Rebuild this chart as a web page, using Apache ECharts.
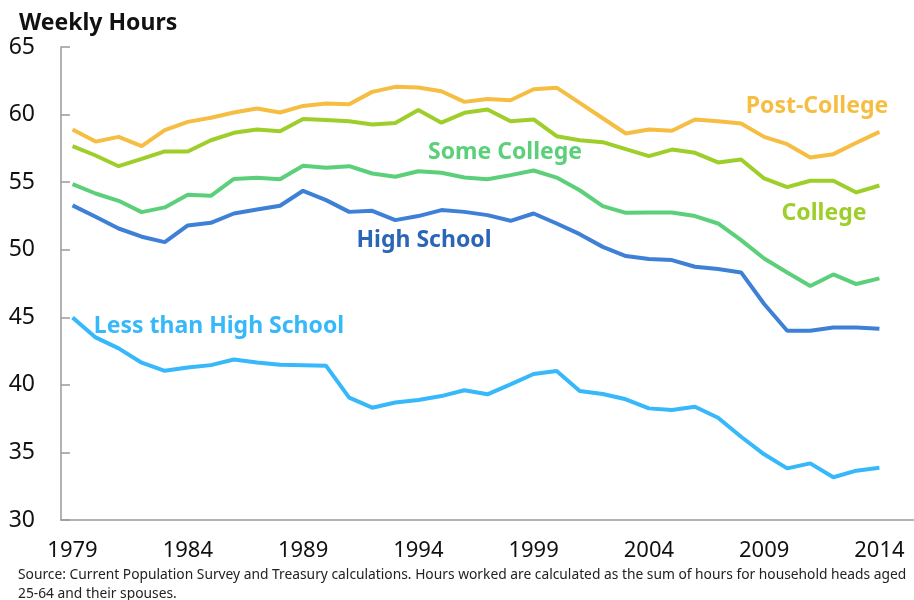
<!DOCTYPE html>
<html lang="en">
<head>
    <meta charset="UTF-8">
    <title>Weekly Hours by Education</title>
</head>
<body style="margin:0;">
<div style="width: 914px;height: 600px;" id="hoursChart"></div>
</body>
<script src="https://cdn.jsdelivr.net/npm/echarts@6/dist/echarts.min.js"></script>
<script type="text/javascript">
  // years on the axis; 2015 is an empty slot so the axis runs to the edge
  let years = [
    '1979', '1980', '1981', '1982', '1983', '1984', '1985', '1986', '1987',
    '1988', '1989', '1990', '1991', '1992', '1993', '1994', '1995', '1996',
    '1997', '1998', '1999', '2000', '2001', '2002', '2003', '2004', '2005',
    '2006', '2007', '2008', '2009', '2010', '2011', '2012', '2013', '2014',
    '2015'];

  let postCollege = [
    58.9, 58.0, 58.35, 57.66, 58.85, 59.46, 59.76, 60.15, 60.45, 60.15,
    60.64, 60.82, 60.77, 61.68, 62.05, 62.0, 61.73, 60.94, 61.15, 61.06,
    61.87, 61.99, 60.87, 59.73, 58.6, 58.9, 58.8, 59.63, 59.51, 59.34,
    58.35, 57.81, 56.83, 57.07, 57.91, 58.72];

  let college = [
    57.66, 56.97, 56.18, 56.72, 57.27, 57.27, 58.1, 58.65, 58.9, 58.77,
    59.68, 59.6, 59.5, 59.26, 59.38, 60.33, 59.4, 60.13, 60.38, 59.5,
    59.64, 58.4, 58.1, 57.96, 57.44, 56.92, 57.41, 57.17, 56.46, 56.68,
    55.27, 54.63, 55.1, 55.1, 54.24, 54.75];

  let someCollege = [
    54.85, 54.16, 53.62, 52.78, 53.13, 54.06, 53.99, 55.24, 55.32, 55.22,
    56.21, 56.06, 56.18, 55.64, 55.4, 55.81, 55.69, 55.34, 55.22, 55.52,
    55.86, 55.34, 54.4, 53.22, 52.73, 52.76, 52.76, 52.49, 51.94, 50.71,
    49.35, 48.32, 47.31, 48.17, 47.46, 47.88];

  let highSchool = [
    53.28, 52.44, 51.57, 50.96, 50.56, 51.8, 51.99, 52.68, 52.98, 53.25,
    54.36, 53.67, 52.8, 52.88, 52.19, 52.49, 52.93, 52.8, 52.56, 52.14,
    52.68, 51.94, 51.15, 50.21, 49.53, 49.31, 49.23, 48.74, 48.57, 48.32,
    45.98, 44.0, 44.0, 44.25, 44.25, 44.15];

  let lessThanHS = [
    44.99, 43.51, 42.7, 41.64, 41.04, 41.29, 41.46, 41.88, 41.66, 41.49,
    41.46, 41.41, 39.05, 38.31, 38.7, 38.88, 39.17, 39.6, 39.3, 40.04,
    40.8, 41.02, 39.54, 39.32, 38.93, 38.26, 38.14, 38.38, 37.57, 36.16,
    34.86, 33.82, 34.19, 33.16, 33.65, 33.87];

  const font = '"Noto Sans", "Open Sans", sans-serif';
  const axisGray = '#9a9a9a';

  function makeLine(name, data, color) {
    return {
      name: name,
      type: 'line',
      data: data,
      symbol: 'none',
      lineStyle: {width: 4, color: color},
      itemStyle: {color: color},
      z: 3,
    };
  }

  function seriesLabel(text, x, y, color) {
    return {
      type: 'text',
      x: x,
      y: y,
      style: {
        text: text,
        fill: color,
        font: 'bold 23px ' + font,
        textAlign: 'center',
        textVerticalAlign: 'middle',
      },
    };
  }

  let option = {
    animation: false,
    backgroundColor: '#ffffff',
    title: {
      text: 'Weekly Hours',
      left: 14,
      top: 7,
      textStyle: {
        fontFamily: font,
        fontWeight: 'bold',
        fontSize: 23,
        color: '#111',
      },
    },
    grid: {
      left: 61, right: -3, top: 47, bottom: 80,
    },
    xAxis: {
      type: 'category',
      data: years,
      boundaryGap: true,
      axisLine: {lineStyle: {color: axisGray, width: 1.5}},
      axisTick: {
        inside: true, length: 8, interval: 0,
        lineStyle: {color: axisGray, width: 1.5},
      },
      axisLabel: {
        interval: 4,
        margin: 20,
        fontFamily: font,
        fontSize: 22,
        color: '#111',
      },
      splitLine: {show: false},
    },
    yAxis: {
      type: 'value',
      min: 30,
      max: 65,
      interval: 5,
      axisLine: {show: true, lineStyle: {color: axisGray, width: 1.5}},
      axisTick: {
        show: true, inside: true, length: 9,
        lineStyle: {color: axisGray, width: 1.5},
      },
      axisLabel: {
        margin: 26,
        fontFamily: font,
        fontSize: 23,
        color: '#111',
      },
      splitLine: {show: false},
    },
    series: [
      makeLine('Post-College', postCollege, '#f6bd43'),
      makeLine('College', college, '#9dce2a'),
      makeLine('Some College', someCollege, '#5ccf7a'),
      makeLine('High School', highSchool, '#3f80d7'),
      makeLine('Less than High School', lessThanHS, '#36b8fa'),
    ],
    graphic: [
      seriesLabel('Post-College', 817, 106, '#f6bd43'),
      seriesLabel('College', 824, 213, '#9dce2a'),
      seriesLabel('Some College', 505, 152, '#5ccf7a'),
      seriesLabel('High School', 424, 240, '#2b66b6'),
      seriesLabel('Less than High School', 219, 326, '#36b8fa'),
      {
        type: 'text',
        x: 18,
        y: 566,
        style: {
          text: 'Source: Current Population Survey and Treasury calculations. Hours worked are calculated as the sum of hours for household heads aged\n25-64 and their spouses.',
          fill: '#222',
          font: '13.8px ' + font,
          lineHeight: 19,
        },
      },
    ],
  };

  let instance = echarts.init(document.getElementById('hoursChart'));
  instance.setOption(option);
</script>
</html>
